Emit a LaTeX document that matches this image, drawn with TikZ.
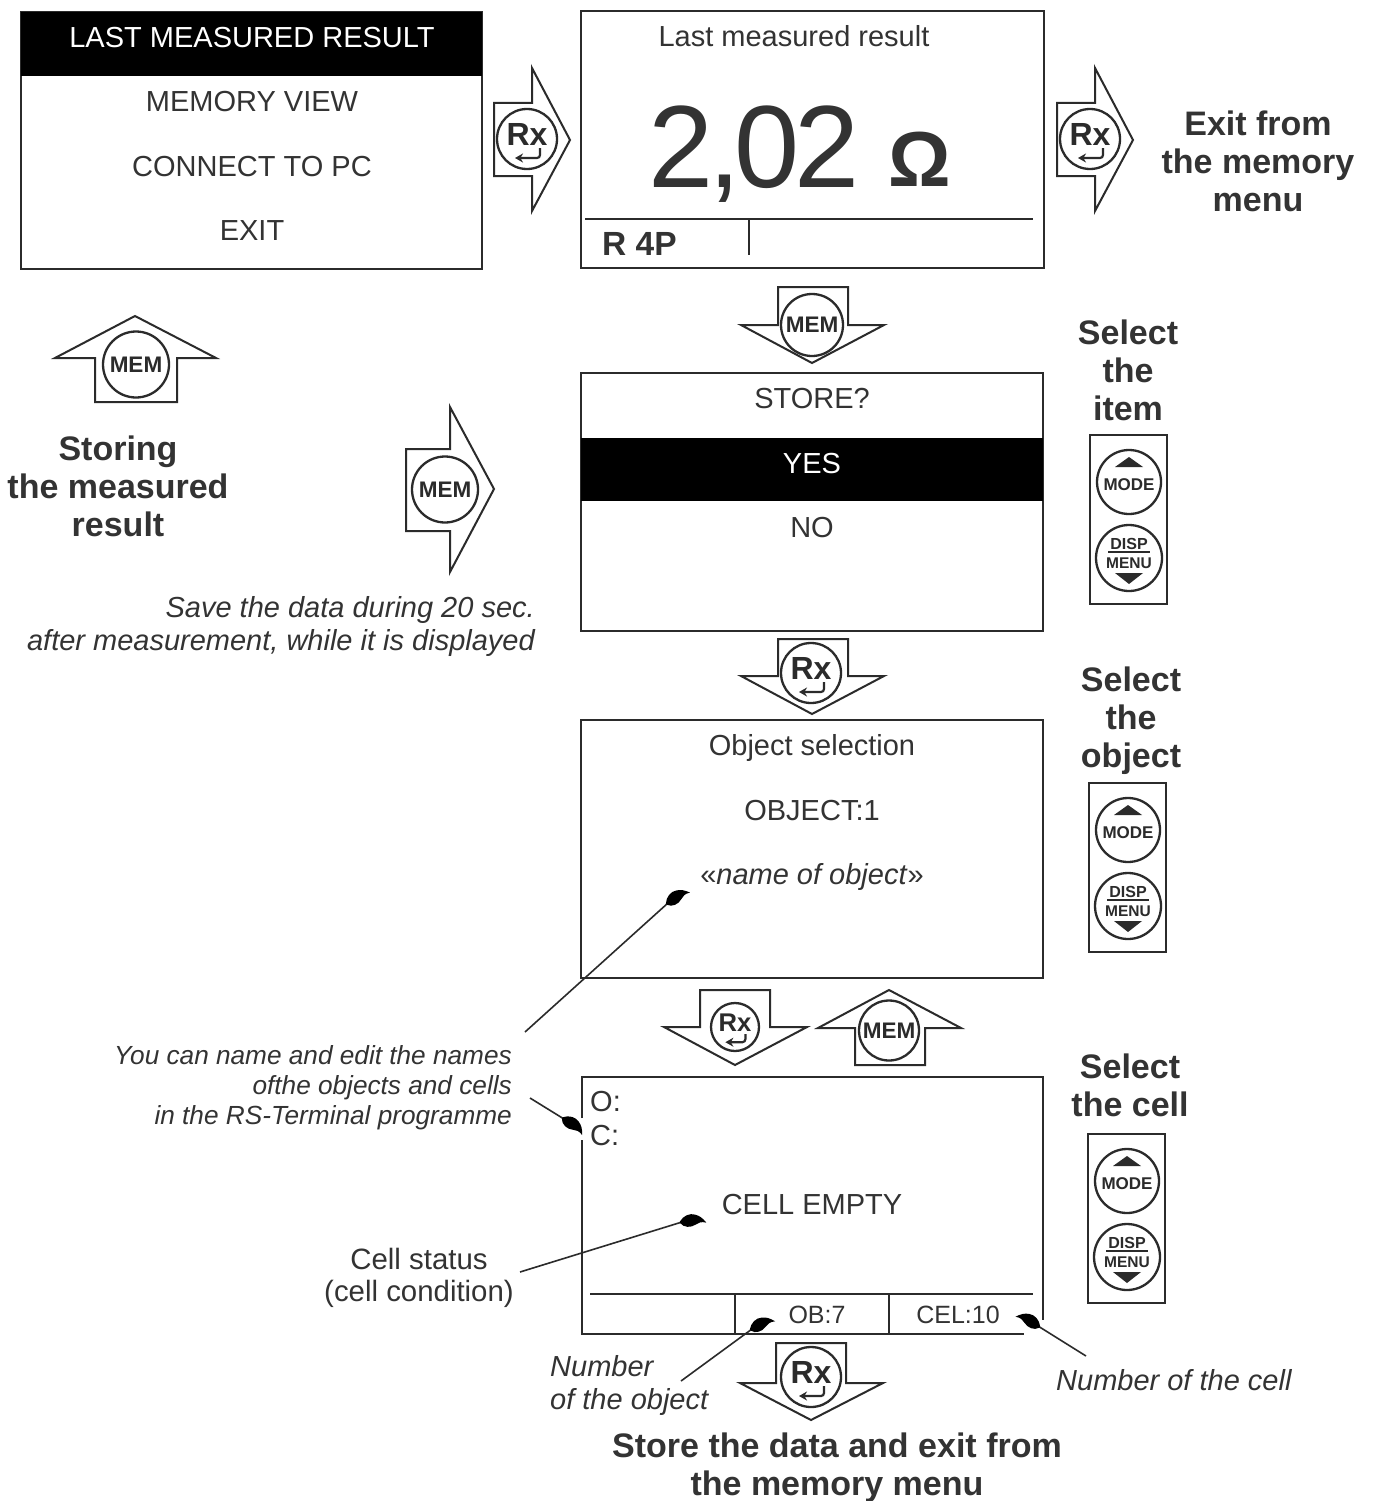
\documentclass[tikz,border=0pt]{standalone}
\usepackage{fontspec}
\setmainfont{Liberation Sans}
\usetikzlibrary{arrows.meta}
\newcommand{\fsz}[1]{\fontsize{#1}{#1}\selectfont}
\definecolor{ink}{HTML}{2B2B2B}
\definecolor{txt}{HTML}{333333}
\tikzset{
  x=1pt,y=-1pt,
  screen/.style={draw=ink,line width=2.5pt,fill=white},
  band/.style={fill=black,draw=none},
  thin rule/.style={draw=ink,line width=1.6pt},
  arrowshape/.style={draw=ink,line width=2pt,fill=white,line join=miter},
  btn/.style={draw=ink,line width=2.3pt,fill=white},
  lbl/.style={inner sep=0pt,anchor=base,text=txt,font=\fsz{29}},
  lblsmall/.style={lbl,font=\fsz{25}},
  title/.style={inner sep=0pt,align=center,text=txt,font=\fsz{34}\bfseries,text depth=0pt},
  note/.style={inner sep=0pt,text=txt,font=\fsz{29}\itshape},
  btntext/.style={inner sep=0pt,text=ink,font=\bfseries},
  leader/.style={draw=ink,line width=1.6pt},
  blobfill/.style={fill=black,draw=none},
}
% Rx button
\newcommand{\rxbtn}[4]{% name, x, y, scale
  \begin{scope}[shift={(#2,#3)},scale=#4,transform shape]
    \draw[btn] (0,0) circle[radius=30];
    \node[btntext,font=\fsz{32}\bfseries] (#1) at (0,-5) {Rx};
    \draw[ink,line width=2.2pt,rounded corners=3pt,-{Stealth[length=8pt,width=9pt]}] (13,9) -- (13,19) -- (-12,19);
  \end{scope}}
% MEM button
\newcommand{\membtn}[4]{% name, x, y, radius
  \draw[btn] (#2,#3) circle[radius=#4];
  \node[btntext,font=\fsz{22.5}\bfseries] (#1) at (#2,#3) {MEM};}
% MODE + DISP/MENU panel
\newcommand{\btnpanel}[3]{% name, x, y (top left)
  \begin{scope}[shift={(#2,#3)}]
    \draw[draw=ink,line width=2.2pt,fill=white] (0,0) rectangle (77,169);
    \draw[btn] (39,47) circle[radius=32];
    \fill[ink] (39,22) -- (53,32) -- (25,32) -- cycle;
    \node[btntext,font=\fsz{17}\bfseries] (#1m) at (39,50) {MODE};
    \draw[btn] (39,123) circle[radius=33];
    \node[btntext,font=\fsz{16}\bfseries] (#1d) at (39,109) {DISP};
    \draw[ink,line width=1.5pt] (18,117) -- (60,117);
    \node[btntext,font=\fsz{15.5}\bfseries] (#1n) at (39,128) {MENU};
    \fill[ink] (39,149) -- (53,138) -- (25,138) -- cycle;
  \end{scope}}
% blob: origin at line end, rotate
\newcommand{\blobshape}{%
    \fill[blobfill] (-2,0.8) .. controls (1,6) and (8,7) .. (13,4.5)
      .. controls (16,3) and (19,2) .. (24,4)
      .. controls (21,-1) and (18,-4) .. (14,-5.5)
      .. controls (9,-8) and (2,-6) .. (-2,-0.8) -- cycle;}
\newcommand{\blob}[2]{%
  \begin{scope}[shift={(#1)},rotate=#2]
    \blobshape
  \end{scope}}
\begin{document}
\begin{tikzpicture}
\useasboundingbox (0,0) rectangle (1373,1501);
\fill[white] (0,0) rectangle (1373,1501);

% Screen 1
\draw[screen] (21,12) rectangle (482,269);
\fill[band] (21,12) rectangle (482,76);
\node[lbl,text=white] (s1a) at (252,47.5) {LAST MEASURED RESULT};
\node[lbl] (s1b) at (252,112) {MEMORY VIEW};
\node[lbl] (s1c) at (252,176) {CONNECT TO PC};
\node[lbl] (s1d) at (252,240.5) {EXIT};

% Screen 2
\draw[screen] (581,11) rectangle (1044,268);
\node[lbl] (s2a) at (794,46.5) {Last measured result};
\node[inner sep=0pt,anchor=base,text=txt] (s2b) at (754,187) {\fsz{117}\addfontfeature{LetterSpace=-5}2,02};
\node[inner sep=0pt,anchor=base,text=txt,font=\fsz{78}\bfseries] (s2c) at (920,186) {Ω};
\draw[thin rule] (585,219) -- (1033,219);
\draw[thin rule] (749,219) -- (749,255);
\node[lbl,anchor=base west,font=\fsz{33.5}\bfseries] (s2d) at (602,255) {R 4P};

% Screen 3
\draw[screen] (581,373) rectangle (1043,631);
\fill[band] (581,438) rectangle (1043,501);
\node[lbl] (s3a) at (812,408) {STORE?};
\node[lbl,text=white] (s3b) at (812,473) {YES};
\node[lbl] (s3c) at (812,537) {NO};

% Screen 4
\draw[screen] (581,720) rectangle (1043,978);
\node[lbl] (s4a) at (812,755) {Object selection};
\node[lbl] (s4b) at (812,820) {OBJECT:1};
\node[lbl] (s4c) at (812,884) {«\textit{name of object}»};

% Screen 5
\draw[screen,fill=none] (582,1118) -- (582,1077) -- (1043,1077) -- (1043,1320);
\draw[screen,fill=none] (582,1140) -- (582,1334) -- (1024,1334);
\draw[thin rule] (590,1294) -- (1033,1294);
\draw[thin rule] (735,1294) -- (735,1334);
\draw[thin rule] (889,1294) -- (889,1334);
\node[lbl,anchor=base west] (s5a) at (590,1111) {O:};
\node[lbl,anchor=base west] (s5b) at (590,1145) {C:};
\node[lbl] (s5c) at (812,1214) {CELL EMPTY};
\node[lblsmall] (s5d) at (817,1323) {OB:7};
\node[lblsmall] (s5e) at (958,1323) {CEL:10};

% Arrows with buttons
\draw[arrowshape] (494,103) -- (532,103) -- (532,68) -- (570,140) -- (532,211) -- (532,176) -- (494,176) -- cycle;
\rxbtn{a1}{527}{139}{1}
\draw[arrowshape] (1057,103) -- (1095,103) -- (1095,68) -- (1133,140) -- (1095,211) -- (1095,176) -- (1057,176) -- cycle;
\rxbtn{a2}{1090}{139}{1}
\draw[arrowshape] (406,449) -- (450,449) -- (450,407) -- (494,489) -- (450,572) -- (450,531) -- (406,531) -- cycle;
\membtn{a3}{445}{489.5}{33}
\draw[arrowshape] (135,316) -- (216,358) -- (177,358) -- (177,402) -- (95,402) -- (95,358) -- (55,358) -- cycle;
\membtn{a4}{136}{364.5}{33}
\draw[arrowshape] (778,287) -- (848,287) -- (848,325) -- (884,325) -- (812,363) -- (741,325) -- (778,325) -- cycle;
\membtn{a5}{812}{325}{31}
\draw[arrowshape] (778,639) -- (848,639) -- (848,676) -- (884,676) -- (812,714) -- (741,676) -- (778,676) -- cycle;
\rxbtn{a6}{811}{673}{1}
\draw[arrowshape] (700,990) -- (770,990) -- (770,1027) -- (807,1027) -- (735,1065) -- (664,1027) -- (700,1027) -- cycle;
\rxbtn{a7}{735}{1027}{0.8}
\draw[arrowshape] (889,990) -- (961,1028) -- (925,1028) -- (925,1065) -- (855,1065) -- (855,1028) -- (818,1028) -- cycle;
\membtn{a8}{889}{1030.5}{30}
\draw[arrowshape] (776,1343) -- (846,1343) -- (846,1383) -- (883,1383) -- (811,1420) -- (740,1383) -- (776,1383) -- cycle;
\rxbtn{a9}{811}{1377}{1}

% Panels
\btnpanel{p1}{1090}{435}
\btnpanel{p2}{1089}{783}
\btnpanel{p3}{1088}{1134}

% Titles
\node[title] (t1) at (1258,161) {Exit from\\[4pt]the memory\\[4pt]menu};
\node[title] (t2) at (118,486) {Storing\\[4pt]the measured\\[4pt]result};
\node[title] (t3) at (1128,370) {Select\\[4pt]the\\[4pt]item};
\node[title] (t4) at (1131,717) {Select\\[4pt]the\\[4pt]object};
\node[title] (t5) at (1130,1085) {Select\\[4pt]the cell};
\node[title] (t6) at (837,1464) {Store the data and exit from\\[4pt]the memory menu};

% Notes
\node[note,anchor=east,align=right] (n1) at (535,626) {Save the data during 20 sec.\\[4pt]after measurement, while it is displayed};
\node[note,anchor=east,align=right,font=\fsz{26.2}\itshape] (n2) at (512,1088) {You can name and edit the names\\[4pt]ofthe objects and cells\\[4pt]in the RS-Terminal programme};
\node[inner sep=0pt,text=txt,font=\fsz{29.4},align=center] (n3) at (419,1278) {Cell status\\[3pt](cell condition)};
\node[note,anchor=west,align=left] (n4) at (550,1385.5) {Number\\[4pt]of the object};
\node[note,anchor=west] (n5) at (1056,1380) {Number of the cell};

% Leaders
\coordinate (c1a) at (525,1032); \coordinate (c1b) at (668,903);
\coordinate (c2a) at (530,1098); \coordinate (c2b) at (564,1119);
\coordinate (c3a) at (520,1272); \coordinate (c3b) at (682,1222);
\coordinate (c4a) at (681,1381); \coordinate (c4b) at (752,1329);
\coordinate (c5a) at (1086,1356); \coordinate (c5b) at (1038,1326);
\draw[leader] (c1a) -- (c1b);
\draw[leader] (c2a) -- (c2b);
\draw[leader] (c3a) -- (c3b);
\draw[leader] (c4a) -- (c4b);
\draw[leader] (c5a) -- (c5b);
\blob{c1b}{35}
\blob{c2b}{-32}
\blob{c3b}{8}
\blob{c4b}{28}
\begin{scope}[shift={(c5b)},rotate=148,yscale=-1]
  \blobshape
\end{scope}
\end{tikzpicture}
\end{document}
